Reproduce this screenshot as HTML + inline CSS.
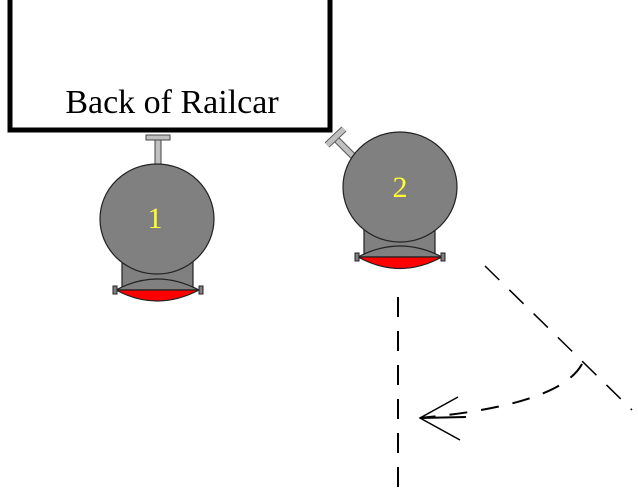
<!DOCTYPE html>
<html><head><style>body{margin:0;background:#fff}svg{display:block}</style></head>
<body>
<svg width="638" height="489" xmlns="http://www.w3.org/2000/svg">
<path d="M10,0 V130 H330 V0" fill="none" stroke="#000" stroke-width="5"/>
<text x="172" y="113" font-family="Liberation Serif, serif" font-size="34" text-anchor="middle">Back of Railcar</text>
<!-- tank 1 -->
<rect x="155" y="137" width="6" height="30" fill="#c0c0c0" stroke="#444" stroke-width="1"/>
<rect x="146" y="135" width="24" height="5" fill="#c0c0c0" stroke="#444" stroke-width="1"/>
<rect x="122" y="250" width="71" height="38" fill="#808080" stroke="#222" stroke-width="1.2"/>
<ellipse cx="157" cy="219" rx="57" ry="55" fill="#808080" stroke="#222" stroke-width="1.2"/>
<path d="M116,290 Q157,268 199,290 Z" fill="#808080" stroke="#222" stroke-width="1.2"/>
<path d="M116,290 Q157,312 199,290 Z" fill="#ff0000" stroke="#222" stroke-width="1.2"/>
<rect x="113" y="286" width="4" height="8" fill="#808080" stroke="#222" stroke-width="1"/>
<rect x="199" y="286" width="4" height="8" fill="#808080" stroke="#222" stroke-width="1"/>
<text x="155" y="228" font-family="Liberation Serif, serif" font-size="30" fill="#ffff33" text-anchor="middle">1</text>
<!-- tank 2 -->
<line x1="335" y1="138" x2="355" y2="158" stroke="#555" stroke-width="7"/>
<line x1="335" y1="138" x2="355" y2="158" stroke="#c0c0c0" stroke-width="5"/>
<line x1="327" y1="145" x2="344" y2="129" stroke="#555" stroke-width="7"/>
<line x1="327" y1="145" x2="344" y2="129" stroke="#c0c0c0" stroke-width="5"/>
<rect x="364" y="220" width="71" height="38" fill="#808080" stroke="#222" stroke-width="1.2"/>
<ellipse cx="400" cy="187" rx="57" ry="55" fill="#808080" stroke="#222" stroke-width="1.2"/>
<path d="M358,257 Q400,235 442,257 Z" fill="#808080" stroke="#222" stroke-width="1.2"/>
<path d="M358,257 Q400,280 442,257 Z" fill="#ff0000" stroke="#222" stroke-width="1.2"/>
<rect x="355" y="253" width="4" height="8" fill="#808080" stroke="#222" stroke-width="1"/>
<rect x="441" y="253" width="4" height="8" fill="#808080" stroke="#222" stroke-width="1"/>
<text x="400" y="197" font-family="Liberation Serif, serif" font-size="30" fill="#ffff33" text-anchor="middle">2</text>
<!-- dashed -->
<line x1="398" y1="297" x2="398" y2="487" stroke="#000" stroke-width="2" stroke-dasharray="20,14"/>
<line x1="485" y1="266" x2="632" y2="410" stroke="#000" stroke-width="1.5" stroke-dasharray="20,14"/>
<path d="M582,364 Q560,405 420,418" fill="none" stroke="#000" stroke-width="2" stroke-dasharray="18,14"/>
<path d="M458,397 L420,418 L460,440" fill="none" stroke="#000" stroke-width="1.5"/>
<line x1="420" y1="418" x2="466" y2="417" stroke="#000" stroke-width="2"/>
</svg>
</body></html>
